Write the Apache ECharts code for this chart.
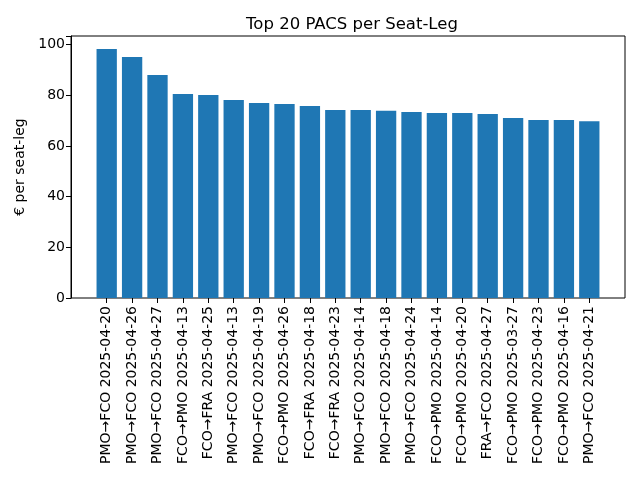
<!DOCTYPE html>
<html>
<head>
<meta charset="utf-8">
<script src="https://cdn.jsdelivr.net/npm/echarts@6/dist/echarts.min.js"></script>
<style>
  html, body { margin: 0; padding: 0; background: #fff; }
  #chart { width: 640px; height: 480px; }
</style>
</head>
<body>
<div id="chart"></div>
<script>
const categories = [
  'PMO→FCO 2025-04-20', 'PMO→FCO 2025-04-26', 'PMO→FCO 2025-04-27', 'FCO→PMO 2025-04-13',
  'FCO→FRA 2025-04-25', 'PMO→FCO 2025-04-13', 'PMO→FCO 2025-04-19', 'FCO→PMO 2025-04-26',
  'FCO→FRA 2025-04-18', 'FCO→FRA 2025-04-23', 'PMO→FCO 2025-04-14', 'PMO→FCO 2025-04-18',
  'PMO→FCO 2025-04-24', 'FCO→PMO 2025-04-14', 'FCO→PMO 2025-04-20', 'FRA→FCO 2025-04-27',
  'FCO→PMO 2025-03-27', 'FCO→PMO 2025-04-23', 'FCO→PMO 2025-04-16', 'PMO→FCO 2025-04-21'
];
const values = [
  98.3, 95.1, 88.0, 80.5, 80.1, 78.1, 77.0, 76.6, 75.8, 74.2,
  74.2, 73.9, 73.4, 73.0, 73.0, 72.6, 71.0, 70.2, 70.2, 69.8
];
const yTicks = [0, 20, 40, 60, 80, 100];

const font = 'DejaVu Sans';
const yMax = 103.4;

const chart = echarts.init(document.getElementById('chart'));
chart.setOption({
  animation: false,
  title: {
    text: 'Top 20 PACS per Seat-Leg',
    left: 347,
    textAlign: 'center',
    top: 11,
    textStyle: { fontFamily: font, fontSize: 16.5, fontWeight: 'normal', color: '#000' }
  },
  grid: [
    { left: 71, right: 15, top: 36, bottom: 182, show: true, borderColor: '#000', borderWidth: 1, backgroundColor: 'transparent' },
    { left: 94, right: 38, top: 36, bottom: 182 }
  ],
  xAxis: [
    { type: 'value', gridIndex: 0, min: 0, max: 1, show: false },
    {
      type: 'category',
      gridIndex: 1,
      data: categories,
      axisLine: { show: false },
      axisTick: { show: true, alignWithLabel: true, length: 5, lineStyle: { color: '#000' } },
      axisLabel: { rotate: 90, interval: 0, fontFamily: font, fontSize: 14, color: '#000', margin: 8 }
    }
  ],
  yAxis: [
    {
      type: 'value',
      gridIndex: 0,
      min: 0,
      max: yMax,
      interval: 20,
      name: '€ per seat-leg',
      nameLocation: 'middle',
      nameGap: 44,
      nameTextStyle: { fontFamily: font, fontSize: 14, color: '#000' },
      splitLine: { show: false },
      axisLine: { show: true, lineStyle: { color: '#000' } },
      axisTick: { show: true, length: 5, lineStyle: { color: '#000' } },
      axisLabel: {
        fontFamily: font, fontSize: 14, color: '#000', margin: 6,
        formatter: v => (yTicks.includes(v) ? String(v) : '')
      }
    },
    { type: 'value', gridIndex: 1, min: 0, max: yMax, show: false }
  ],
  series: [{
    type: 'bar',
    xAxisIndex: 1,
    yAxisIndex: 1,
    data: values,
    barWidth: '80%',
    itemStyle: { color: '#1f77b4' }
  }]
});
</script>
</body>
</html>
